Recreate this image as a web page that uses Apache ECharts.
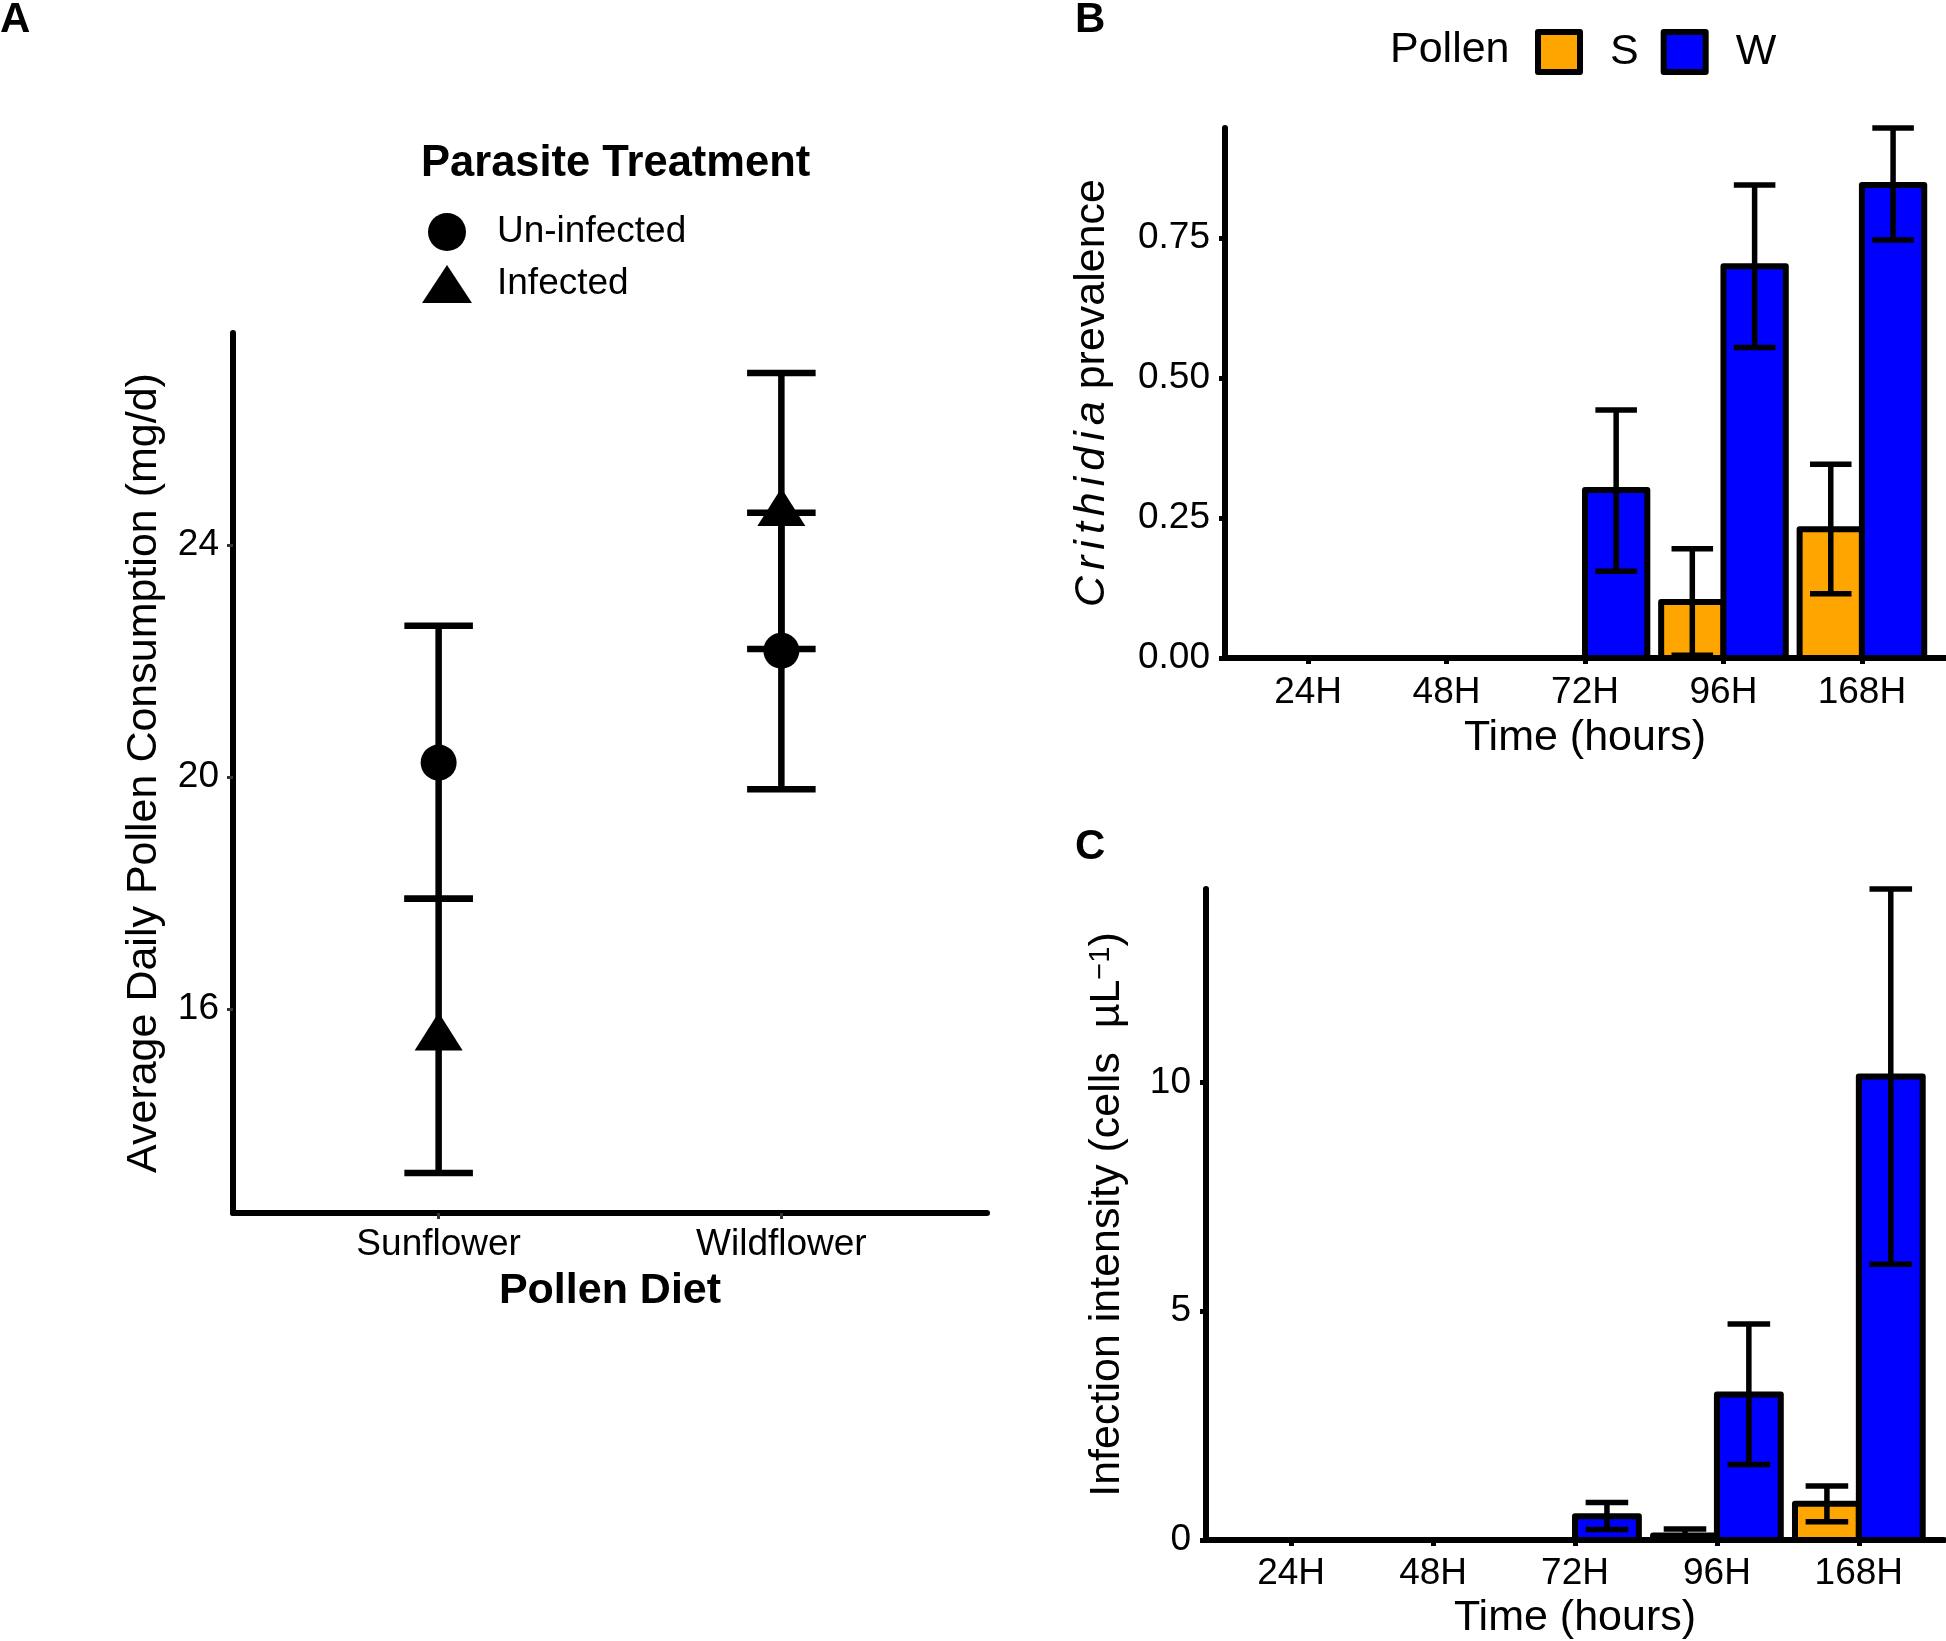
<html>
<head>
    <meta charset='utf-8'/>
    <title>Pollen diet, consumption and Crithidia infection</title>
    <style>
        body {
            margin: 0;
            padding: 0;
            background: #fff;
        }

        #chart {
            position: absolute;
            top: 0;
            left: 0;
            width: 1946px;
            height: 1641px;
        }
    </style>
</head>
<body>
<div id='chart'></div>
<script type="text/javascript" src="https://cdn.jsdelivr.net/npm/echarts@6/dist/echarts.min.js"></script>
<script type="text/javascript">
    // panel A: pollen consumption by diet
    var diets = ['Sunflower', 'Wildflower'];
    var uninfMean = [20.25, 22.18];
    var uninfLow = [17.9, 19.79];
    var uninfHigh = [22.61, 24.56];
    var infMean = [15.54, 24.59];
    var infLow = [13.17, 22.21];
    var infHigh = [17.9, 26.97];
    var consTicks = [16, 20, 24];

    // panels B and C: infection over time
    var times = ['24H', '48H', '72H', '96H', '168H'];
    var prevS = [0, 0, 0, 0.10, 0.23];
    var prevSLow = [0, 0, 0, 0.005, 0.115];
    var prevSHigh = [0, 0, 0, 0.195, 0.346];
    var prevW = [0, 0, 0.30, 0.70, 0.845];
    var prevWLow = [0, 0, 0.155, 0.555, 0.747];
    var prevWHigh = [0, 0, 0.443, 0.845, 0.947];
    var prevTicks = [0, 0.25, 0.5, 0.75];

    var intS = [0, 0, 0, 0.1, 0.79];
    var intSLow = [0, 0, 0, 0, 0.40];
    var intSHigh = [0, 0, 0, 0.24, 1.18];
    var intW = [0, 0, 0.52, 3.18, 10.13];
    var intWLow = [0, 0, 0.23, 1.65, 6.03];
    var intWHigh = [0, 0, 0.82, 4.72, 14.23];
    var intTicks = [0, 5, 10];

    var font = 'Liberation Sans, Arial, Helvetica, sans-serif';
    var orange = '#FFA500';
    var blue = '#0000FF';

    // ggplot style 5% padding of the data range
    function padRange(lo, hi) {
        var d = (hi - lo) * 0.05;
        return [lo - d, hi + d];
    }
    var consRange = padRange(Math.min.apply(null, infLow.concat(uninfLow)),
        Math.max.apply(null, infHigh.concat(uninfHigh)));

    function points(vals) {
        return vals.map(function (v, i) { return [i + 1, v]; });
    }
    function bars(lo, hi) {
        return lo.map(function (v, i) { return [i + 1, v, hi[i]]; });
    }

    function barItem(offset) {
        return function (params, api) {
            var x = api.value(0) + offset;
            var p0 = api.coord([x - 0.225, api.value(1)]);
            var p1 = api.coord([x + 0.225, 0]);
            return {
                type: 'rect',
                shape: {x: p0[0], y: p0[1], width: p1[0] - p0[0], height: p1[1] - p0[1]},
                style: {fill: api.visual('color'), stroke: '#000', lineWidth: 6, lineJoin: 'round'}
            };
        };
    }

    function errorItem(offset, half, width) {
        return function (params, api) {
            var x = api.value(0) + offset;
            var lo = api.coord([x, api.value(1)]);
            var hi = api.coord([x, api.value(2)]);
            var edge = api.coord([x + half, api.value(1)]);
            var dx = edge[0] - lo[0];
            var st = {stroke: '#000', lineWidth: width};
            return {
                type: 'group',
                children: [
                    {type: 'line', shape: {x1: lo[0], y1: lo[1], x2: hi[0], y2: hi[1]}, style: st},
                    {type: 'line', shape: {x1: lo[0] - dx, y1: lo[1], x2: lo[0] + dx, y2: lo[1]}, style: st},
                    {type: 'line', shape: {x1: hi[0] - dx, y1: hi[1], x2: hi[0] + dx, y2: hi[1]}, style: st}
                ]
            };
        };
    }

    function xAxisFor(grid, labels, gap, tickStyle) {
        var vals = labels.map(function (l, i) { return i + 1; });
        return {
            type: 'value', gridIndex: grid,
            min: 0.4, max: labels.length + 0.6,
            axisLine: {show: true, onZero: false, lineStyle: {color: '#000', width: 6}},
            axisTick: {show: true, length: 6, customValues: vals, lineStyle: tickStyle},
            axisLabel: {
                customValues: vals, margin: gap, fontSize: 37, color: '#000', fontFamily: font,
                formatter: function (v) { return labels[Math.round(v) - 1]; }
            },
            splitLine: {show: false}
        };
    }

    function yAxisFor(grid, min, max, ticks, digits, tickStyle) {
        return {
            type: 'value', gridIndex: grid, min: min, max: max,
            axisLine: {show: true, onZero: false, lineStyle: {color: '#000', width: 6}},
            axisTick: {show: true, length: 6, customValues: ticks, lineStyle: tickStyle},
            axisLabel: {
                customValues: ticks, margin: 15, fontSize: 37, color: '#000', fontFamily: font,
                padding: [4, 0, 0, 0],
                formatter: function (v) { return v.toFixed(digits); }
            },
            splitLine: {show: false},
            nameLocation: 'middle',
            nameTextStyle: {fontSize: 43, color: '#000', fontFamily: font}
        };
    }

    var thinTick = {color: '#333', width: 3};
    var boldTick = {color: '#000', width: 5};

    var xA = xAxisFor(0, diets, 13, thinTick);
    xA.name = 'Pollen Diet';
    xA.nameLocation = 'middle';
    xA.nameGap = 57;
    xA.nameTextStyle = {fontSize: 43, fontWeight: 'bold', color: '#000', fontFamily: font};

    var xB = xAxisFor(1, times, 16, boldTick);
    xB.name = 'Time (hours)';
    xB.nameLocation = 'middle';
    xB.nameGap = 59;
    xB.nameTextStyle = {fontSize: 43, color: '#000', fontFamily: font};

    var xC = xAxisFor(2, times, 15, boldTick);
    xC.name = 'Time (hours)';
    xC.nameLocation = 'middle';
    xC.nameGap = 57;
    xC.nameTextStyle = {fontSize: 43, color: '#000', fontFamily: font};

    var yA = yAxisFor(0, consRange[0], consRange[1], consTicks, 0, thinTick);
    yA.axisLabel.margin = 14;
    yA.name = 'Average Daily Pollen Consumption (mg/d)';
    yA.nameGap = 67;

    // the italic genus name is set loosely in the original, one token per letter
    var genus = 'Crithidia'.split('').map(function (c, i, all) {
        return '{' + (i < all.length - 1 ? 'i' : 'j') + '|' + c + '}';
    }).join('');
    var yB = yAxisFor(1, 0, Math.max.apply(null, prevWHigh.concat(prevSHigh)), prevTicks, 2, boldTick);
    yB.name = genus + ' prevalence';
    yB.nameGap = 111;
    yB.nameTextStyle.rich = {
        i: {fontSize: 43, fontStyle: 'italic', color: '#000', fontFamily: font, padding: [0, 6, 0, 0]},
        j: {fontSize: 43, fontStyle: 'italic', color: '#000', fontFamily: font}
    };

    var yC = yAxisFor(2, 0, Math.max.apply(null, intWHigh.concat(intSHigh)), intTicks, 0, boldTick);
    yC.name = '{a|Infection intensity (cells  \u00b5L}{s|\u22121}{a|)}';
    yC.nameGap = 77;
    yC.nameTextStyle.rich = {
        a: {fontSize: 43, color: '#000', fontFamily: font},
        s: {fontSize: 29, color: '#000', fontFamily: font, verticalAlign: 'top'}
    };

    var chart = echarts.init(document.getElementById('chart'), null, {renderer: 'canvas'});
    var option = {
        animation: false,
        backgroundColor: '#fff',
        grid: [
            {left: 233, top: 333, width: 754, height: 880},
            {left: 1225, top: 128, width: 720, height: 530},
            {left: 1206, top: 889, width: 738, height: 652}
        ],
        xAxis: [xA, xB, xC],
        yAxis: [yA, yB, yC],
        legend: [
            {
                orient: 'vertical', left: 417, top: 208, selectedMode: false,
                itemWidth: 50, itemHeight: 38, itemGap: 14,
                itemStyle: {color: '#000', opacity: 1},
                textStyle: {fontSize: 37, color: '#000', fontFamily: font, padding: [4, 0, 0, 20]},
                data: [{name: 'Un-infected', icon: 'circle'}, {name: 'Infected', icon: 'triangle'}]
            },
            {
                orient: 'horizontal', left: 1530, top: 24, selectedMode: false,
                itemWidth: 42, itemHeight: 40, itemGap: 22,
                itemStyle: {borderColor: '#000', borderWidth: 6, borderJoin: 'round'},
                textStyle: {fontSize: 43, color: '#000', fontFamily: font, padding: [0, 0, 0, 25]},
                data: [{name: 'S', icon: 'rect'}, {name: 'W', icon: 'rect'}]
            }
        ],
        graphic: [
            {type: 'text', x: 0, y: 20, style: {text: 'A', font: 'bold 42px ' + font, fill: '#000', verticalAlign: 'middle'}},
            {type: 'text', x: 1075, y: 20, style: {text: 'B', font: 'bold 42px ' + font, fill: '#000', verticalAlign: 'middle'}},
            {type: 'text', x: 1075, y: 847, style: {text: 'C', font: 'bold 42px ' + font, fill: '#000', verticalAlign: 'middle'}},
            {type: 'text', x: 421, y: 164, style: {text: 'Parasite Treatment', font: 'bold 43.5px ' + font, fill: '#000', verticalAlign: 'middle'}},
            {type: 'text', x: 1390, y: 50, style: {text: 'Pollen', font: '43px ' + font, fill: '#000', verticalAlign: 'middle'}}
        ],
        series: [
            // panel A
            {
                type: 'custom', name: 'errUninf', xAxisIndex: 0, yAxisIndex: 0,
                renderItem: errorItem(0, 0.1, 6.5), encode: {x: 0, y: [1, 2]},
                data: bars(uninfLow, uninfHigh)
            },
            {
                type: 'custom', name: 'errInf', xAxisIndex: 0, yAxisIndex: 0,
                renderItem: errorItem(0, 0.1, 6.5), encode: {x: 0, y: [1, 2]},
                data: bars(infLow, infHigh)
            },
            {
                type: 'scatter', name: 'Un-infected', xAxisIndex: 0, yAxisIndex: 0,
                symbol: 'circle', symbolSize: 36, itemStyle: {color: '#000', opacity: 1},
                data: points(uninfMean)
            },
            {
                type: 'scatter', name: 'Infected', xAxisIndex: 0, yAxisIndex: 0,
                symbol: 'triangle', symbolSize: [48, 38], symbolOffset: [0, -4],
                itemStyle: {color: '#000', opacity: 1},
                data: points(infMean)
            },
            // panel B
            {
                type: 'custom', name: 'S', xAxisIndex: 1, yAxisIndex: 1, itemStyle: {color: orange},
                renderItem: barItem(-0.225), encode: {x: 0, y: 1}, data: points(prevS)
            },
            {
                type: 'custom', name: 'W', xAxisIndex: 1, yAxisIndex: 1, itemStyle: {color: blue},
                renderItem: barItem(0.225), encode: {x: 0, y: 1}, data: points(prevW)
            },
            {
                type: 'custom', name: 'errPrevS', xAxisIndex: 1, yAxisIndex: 1,
                renderItem: errorItem(-0.225, 0.15, 5.5), encode: {x: 0, y: [1, 2]},
                data: bars(prevSLow, prevSHigh)
            },
            {
                type: 'custom', name: 'errPrevW', xAxisIndex: 1, yAxisIndex: 1,
                renderItem: errorItem(0.225, 0.15, 5.5), encode: {x: 0, y: [1, 2]},
                data: bars(prevWLow, prevWHigh)
            },
            // panel C
            {
                type: 'custom', name: 'S', xAxisIndex: 2, yAxisIndex: 2, itemStyle: {color: orange},
                renderItem: barItem(-0.225), encode: {x: 0, y: 1}, data: points(intS)
            },
            {
                type: 'custom', name: 'W', xAxisIndex: 2, yAxisIndex: 2, itemStyle: {color: blue},
                renderItem: barItem(0.225), encode: {x: 0, y: 1}, data: points(intW)
            },
            {
                type: 'custom', name: 'errIntS', xAxisIndex: 2, yAxisIndex: 2,
                renderItem: errorItem(-0.225, 0.15, 5.5), encode: {x: 0, y: [1, 2]},
                data: bars(intSLow, intSHigh)
            },
            {
                type: 'custom', name: 'errIntW', xAxisIndex: 2, yAxisIndex: 2,
                renderItem: errorItem(0.225, 0.15, 5.5), encode: {x: 0, y: [1, 2]},
                data: bars(intWLow, intWHigh)
            }
        ]
    };
    chart.setOption(option);
</script>
</body>
</html>
